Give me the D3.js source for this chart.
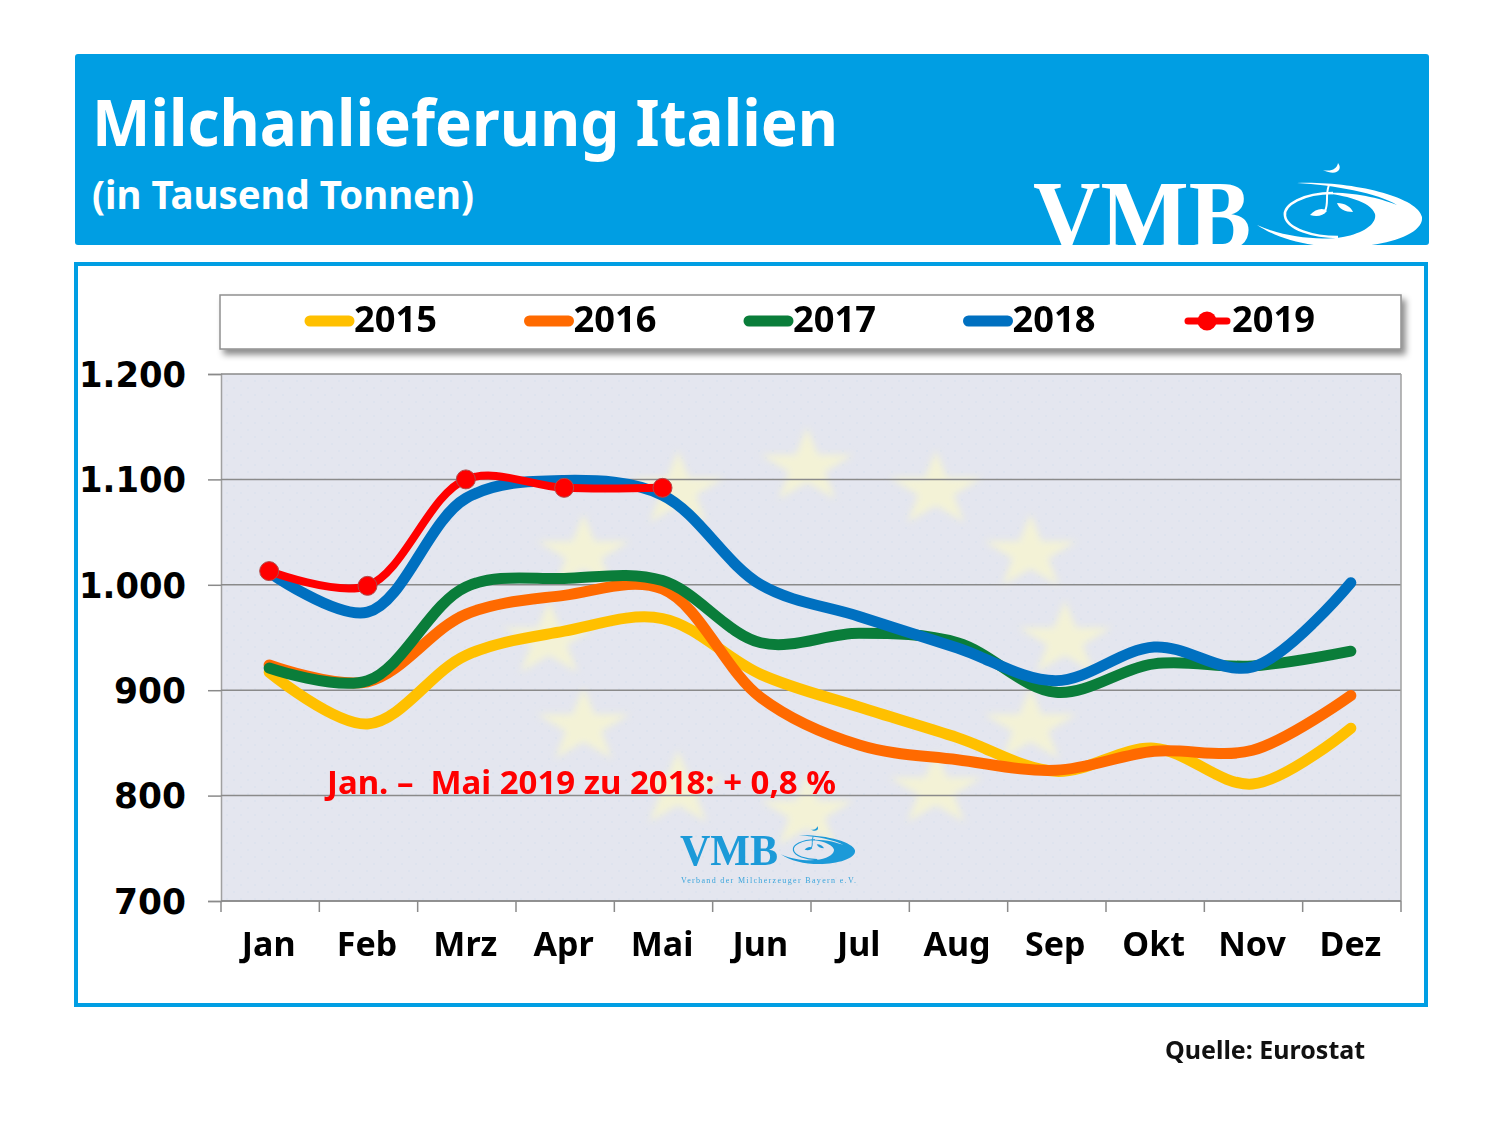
<!DOCTYPE html>
<html>
<head>
<meta charset="utf-8">
<title>Milchanlieferung Italien</title>
<script src="https://cdn.jsdelivr.net/npm/d3@7"></script>
<style>
html,body{margin:0;padding:0;background:#fff}
svg{display:block}
text{font-family:"Noto Sans",sans-serif;font-weight:700}
</style>
</head>
<body>
<div id="chart"></div>
<script>
var months=["Jan","Feb","Mrz","Apr","Mai","Jun","Jul","Aug","Sep","Okt","Nov","Dez"];
var yTicks=[700,800,900,1000,1100,1200];

var values2015=[917,868,933,956,968,915,884,855,823,845,811,864];
var values2016=[924,908,972,990,996,893,848,834,824,842,843,895];
var values2017=[921,909,998,1006,1004,945,954,945,898,925,923,937];
var values2018=[1012,974,1082,1099,1085,1000,970,940,909,941,922,1002];
var values2019=[1013,999,1100,1092,1092];

var years=["2015","2016","2017","2018","2019"];
var yearColors=["#ffc000","#ff6a00","#0a7d3a","#0070c0","#ff0000"];
var yearValues=[values2015,values2016,values2017,values2018,values2019];

var blue="#009ee3";

var svg=d3.select("#chart").append("svg").attr("width",1500).attr("height",1125);
var defs=svg.append("defs");

defs.append("filter").attr("id","soft").append("feGaussianBlur").attr("stdDeviation",3.5);
defs.append("filter").attr("id","shadow")
	.attr("x","-2%").attr("y","-20%").attr("width","104%").attr("height","150%")
	.append("feDropShadow")
	.attr("dx",4).attr("dy",5).attr("stdDeviation",3)
	.attr("flood-color","#000").attr("flood-opacity",0.45);

var dots=defs.append("pattern").attr("id","dots").attr("patternUnits","userSpaceOnUse")
	.attr("width",14).attr("height",14);
dots.append("circle").attr("cx",3).attr("cy",3).attr("r",0.8).attr("fill","#d5deec");
dots.append("circle").attr("cx",10).attr("cy",10).attr("r",0.8).attr("fill","#d5deec");

//////////header
svg.append("rect").attr("x",75).attr("y",54).attr("width",1354).attr("height",191).attr("rx",3).attr("fill",blue);
svg.append("text").attr("x",92).attr("y",146).attr("fill","#fff").attr("font-size",64)
	.attr("textLength",746).attr("lengthAdjust","spacingAndGlyphs").text("Milchanlieferung Italien");
svg.append("text").attr("x",92).attr("y",209).attr("fill","#fff").attr("font-size",39)
	.attr("textLength",382).attr("lengthAdjust","spacingAndGlyphs").text("(in Tausend Tonnen)");

// logo is drawn around its own origin so it can be used twice
function drawLogo(g,color){
	g.append("text").attr("x",0).attr("y",0)
		.attr("font-size",100).attr("textLength",218).attr("lengthAdjust","spacingAndGlyphs")
		.attr("fill",color).style("font-family","'Liberation Serif',serif").text("VMB");
	// big swoosh
	g.append("path").attr("fill",color)
		.attr("d","M264,-66 C320,-68 385,-52 389,-32 C391,-14 350,-2 310,-2 C275,-2 245,-10 224,-24 C250,-12 285,-8 310,-12 C332,-16 344,-26 342,-35 C338,-48 310,-54 290,-56 C320,-58 350,-50 364,-44 C345,-56 300,-64 264,-66 Z");
	// thin ring on the left
	g.append("path").attr("fill","none").attr("stroke",color).attr("stroke-width",2.5)
		.attr("d","M300,-56 C270,-56 250,-44 252,-33 C254,-20 280,-12 305,-12");
	// moon
	g.append("path").attr("fill",color)
		.attr("d","M290,-79 C298,-77 304,-80 305,-86 C310,-80 304,-72 290,-79 Z");
	// note
	g.append("path").attr("fill","none").attr("stroke",color).attr("stroke-width",2)
		.attr("d","M296,-64 C292,-54 296,-46 292,-38");
	g.append("path").attr("fill",color).attr("d","M277,-34 C282,-40 290,-42 294,-38 C290,-33 284,-32 277,-34 Z");
	g.append("path").attr("fill",color).attr("d","M304,-46 C312,-46 318,-42 320,-37 C312,-37 306,-40 304,-46 Z");
}
var headerClip=defs.append("clipPath").attr("id","headerClip");
headerClip.append("rect").attr("x",75).attr("y",54).attr("width",1354).attr("height",191);
drawLogo(svg.append("g").attr("clip-path","url(#headerClip)").append("g")
	.attr("transform","translate(1033,249)"),"#fff");

//////////frame
svg.append("rect").attr("x",76).attr("y",264).attr("width",1350).attr("height",741)
	.attr("fill","#fff").attr("stroke",blue).attr("stroke-width",4);

//////////scales
var plotLeft=221,plotRight=1401,plotTop=374,plotBottom=901;
var x=d3.scaleBand().domain(months).range([plotLeft,plotRight]);
var y=d3.scaleLinear().domain([700,1200]).range([plotBottom,plotTop]);

//////////plot background
svg.append("rect").attr("x",plotLeft).attr("y",plotTop).attr("width",plotRight-plotLeft).attr("height",plotBottom-plotTop).attr("fill","#e4e6ef");
svg.append("rect").attr("x",plotLeft).attr("y",plotTop).attr("width",plotRight-plotLeft).attr("height",plotBottom-plotTop).attr("fill","url(#dots)");

// twelve pale stars of the EU flag behind the lines
var stars=svg.append("g").attr("filter","url(#soft)");
var star=d3.symbol().type(d3.symbolStar).size(2200);
d3.range(12).forEach(function(i){
	var a=i*Math.PI/6;
	stars.append("path").attr("d",star)
		.attr("transform","translate("+(807+Math.sin(a)*258)+","+(640-Math.cos(a)*173)+") scale(1.1,0.9)")
		.attr("fill","#f3f2d6");
});

//////////axes
var yAxis=d3.axisLeft(y).tickValues(yTicks).tickSize(13).tickPadding(22)
	.tickFormat(function(d){return d3.format(",")(d).replace(",",".");});
var yG=svg.append("g").attr("transform","translate("+plotLeft+",0)").call(yAxis);
yG.selectAll("text").attr("font-size",36).attr("fill","#000").style("font-family","'DejaVu Sans',sans-serif").attr("dy","0.34em")
	.attr("textLength",function(d){return d>=1000?107:72;}).attr("lengthAdjust","spacingAndGlyphs");
yG.selectAll("line").attr("stroke","#8a8a8a").attr("stroke-width",1.5);
yG.select(".domain").attr("stroke","#a0a0a0").attr("stroke-width",1.5);

svg.append("g").selectAll("line").data(yTicks).enter().append("line")
	.attr("x1",plotLeft).attr("x2",plotRight)
	.attr("y1",function(d){return y(d);}).attr("y2",function(d){return y(d);})
	.attr("stroke","#8a8a8a").attr("stroke-width",1.5);
svg.append("line").attr("x1",plotRight).attr("x2",plotRight).attr("y1",plotTop).attr("y2",plotBottom)
	.attr("stroke","#a0a0a0").attr("stroke-width",1.5);

var xAxis=d3.axisBottom(x).tickSize(0).tickPadding(31);
var xG=svg.append("g").attr("transform","translate(-1.5,"+plotBottom+")").call(xAxis);
xG.selectAll("text").attr("font-size",34).attr("fill","#000");
xG.select(".domain").remove();
svg.append("line").attr("x1",plotLeft).attr("x2",plotRight).attr("y1",plotBottom).attr("y2",plotBottom)
	.attr("stroke","#8a8a8a").attr("stroke-width",1.5);

// ticks sit between the months
svg.append("g").selectAll("line").data(months.concat(["end"])).enter().append("line")
	.attr("x1",function(d){return d==="end"?plotRight:x(d);})
	.attr("x2",function(d){return d==="end"?plotRight:x(d);})
	.attr("y1",plotBottom).attr("y2",plotBottom+11)
	.attr("stroke","#8a8a8a").attr("stroke-width",1.5);

//////////small logo
var smallLogo=svg.append("g").attr("transform","translate(680,865) scale(0.45)");
drawLogo(smallLogo,"#1c9ad8");
svg.append("text").attr("x",681).attr("y",883).attr("font-size",8).attr("fill","#3aa5dc")
	.attr("textLength",175).attr("lengthAdjust","spacing")
	.style("font-family","'Liberation Serif',serif").style("font-weight",400).text("Verband der Milcherzeuger Bayern e.V.");

//////////lines
var line=d3.line()
	.x(function(d,i){return x(months[i])+x.bandwidth()/2-1;})
	.y(function(d){return y(d);})
	.curve(d3.curveCatmullRom.alpha(0.5));

years.forEach(function(year,k){
	var last=k===years.length-1;
	svg.append("path").datum(yearValues[k])
		.attr("d",line).attr("fill","none")
		.attr("stroke",yearColors[k]).attr("stroke-width",last?8:11)
		.attr("stroke-linecap","round");
});

svg.append("g").selectAll("circle").data(values2019).enter().append("circle")
	.attr("cx",function(d,i){return x(months[i])+x.bandwidth()/2-1;})
	.attr("cy",function(d){return y(d);})
	.attr("r",9.5).attr("fill","#ff0000").attr("stroke","#b04a4a").attr("stroke-width",1);

//////////note
svg.append("text").attr("x",327).attr("y",794).attr("fill","#ff0000").attr("font-size",32)
	.attr("textLength",509).attr("lengthAdjust","spacingAndGlyphs")
	.style("white-space","pre").text("Jan. \u2013  Mai 2019 zu 2018: + 0,8 %");

//////////legend
svg.append("rect").attr("x",220).attr("y",295).attr("width",1181).attr("height",54)
	.attr("fill","#fff").attr("stroke","#909090").attr("stroke-width",1.5).attr("filter","url(#shadow)");

var legendScale=d3.scalePoint().domain(years).range([306,1184]);
years.forEach(function(year,k){
	var lx=legendScale(year);
	var last=k===years.length-1;
	svg.append("line").attr("x1",lx+4).attr("x2",lx+43).attr("y1",321).attr("y2",321)
		.attr("stroke",yearColors[k]).attr("stroke-width",last?7:11).attr("stroke-linecap","round");
	if(last){
		svg.append("circle").attr("cx",lx+23).attr("cy",321).attr("r",9.5).attr("fill","#ff0000");
	}
	svg.append("text").attr("x",lx+48).attr("y",332).attr("font-size",36).attr("fill","#000")
		.attr("textLength",83).attr("lengthAdjust","spacingAndGlyphs").text(year);
});

//////////source
svg.append("text").attr("x",1165).attr("y",1059).attr("font-size",25).attr("fill","#111").text("Quelle: Eurostat");
</script>
</body>
</html>
